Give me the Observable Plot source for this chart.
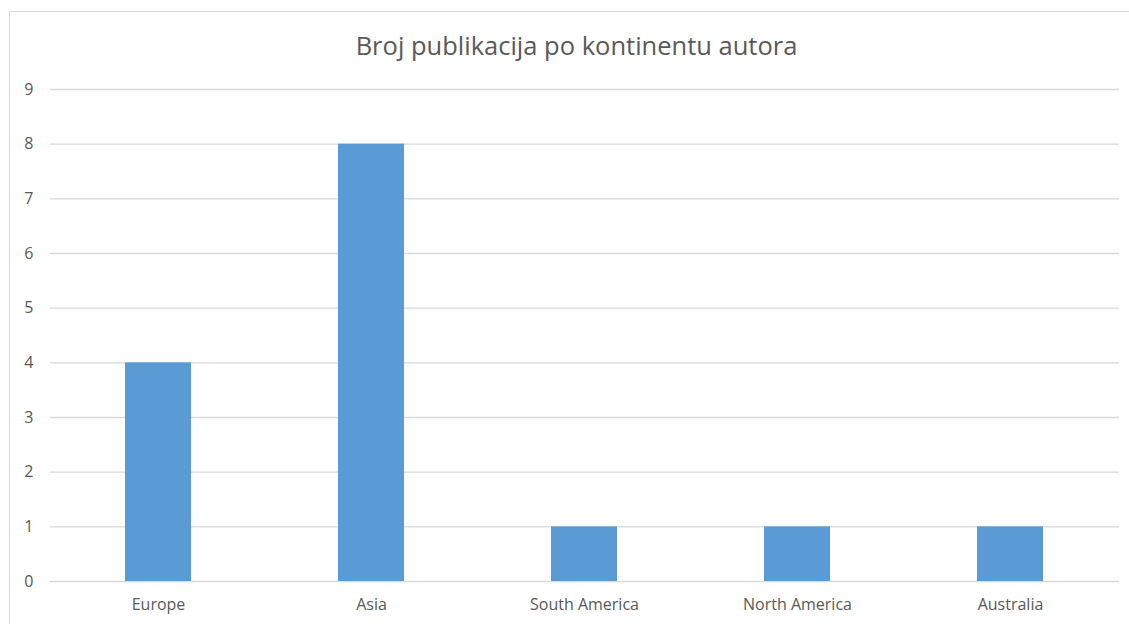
<!DOCTYPE html>
<html>
<head>
<meta charset="utf-8">
<script src="https://cdn.jsdelivr.net/npm/d3@7"></script>
<script src="https://cdn.jsdelivr.net/npm/@observablehq/plot@0.6"></script>
<style>
  html, body { margin: 0; padding: 0; background: #fff; overflow: hidden; }
  #wrap { position: relative; width: 1129px; height: 624px; }
  #border { position: absolute; left: 9px; top: 11px; width: 1130px; height: 640px; border: 1px solid #d9d9d9; box-sizing: border-box; }
  #chart { position: absolute; left: 0; top: 0; }
</style>
</head>
<body>
<div id="wrap"><div id="border"></div><div id="chart"></div></div>
<script>
const title = "Broj publikacija po kontinentu autora";
const continents = ["Europe", "Asia", "South America", "North America", "Australia"];
const counts = [4, 8, 1, 1, 1];
const yTicks = [0, 1, 2, 3, 4, 5, 6, 7, 8, 9];

const data = continents.map((c, i) => ({continent: c, count: counts[i]}));
const font = "'Open Sans', sans-serif";

const chart = Plot.plot({
  width: 1129,
  height: 624,
  marginLeft: 50,
  marginRight: 10,
  marginTop: 89,
  marginBottom: 43,
  style: {fontFamily: font, fontSize: "16px", color: "#595959", background: "transparent"},
  x: {domain: continents, paddingInner: 0.69, paddingOuter: 0.345, label: null},
  y: {domain: [0, 9], ticks: yTicks, label: null},
  marks: [
    Plot.ruleY(yTicks, {stroke: "#d9d9d9", strokeWidth: 1.3}),
    Plot.barY(data, {x: "continent", y: "count", fill: "#5b9bd5"}),
    Plot.axisY({ticks: yTicks, tickSize: 0, tickPadding: 17, fontSize: 16, fill: "#595959"}),
    Plot.axisX({tickSize: 0, tickPadding: 17, fontSize: 16, fill: "#595959"}),
    Plot.text([title], {text: d => d, frameAnchor: "top", dy: -43, dx: -8.5, lineAnchor: "middle", fontSize: 25.5, fill: "#595959"})
  ]
});
document.getElementById("chart").appendChild(chart);
</script>
</body>
</html>
